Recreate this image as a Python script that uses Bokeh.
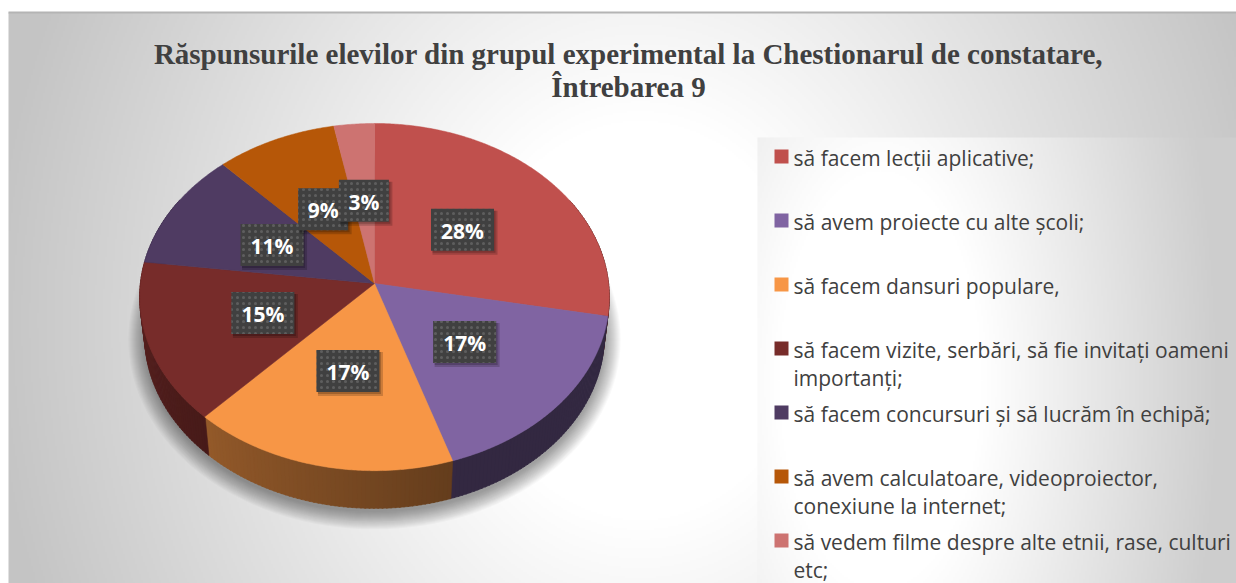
import numpy as np
from bokeh.plotting import figure
from bokeh.models import Range1d, ColumnDataSource
from bokeh.core.properties import value
from bokeh.embed import file_html
from bokeh.resources import INLINE

# ---------------- data ----------------
title_lines = ["Răspunsurile elevilor din grupul experimental la Chestionarul de constatare,",
               "Întrebarea 9"]
categories = ["să facem lecții aplicative;",
              "să avem proiecte cu alte școli;",
              "să facem dansuri populare,",
              "să facem vizite, serbări, să fie invitați oameni importanți;",
              "să facem concursuri și să lucrăm în echipă;",
              "să avem calculatoare, videoproiector, conexiune la internet;",
              "să vedem filme despre alte etnii, rase, culturi etc;"]
legend_lines = [["să facem lecții aplicative;"],
                ["să avem proiecte cu alte școli;"],
                ["să facem dansuri populare,"],
                ["să facem vizite, serbări, să fie invitați oameni", "importanți;"],
                ["să facem concursuri și să lucrăm în echipă;"],
                ["să avem calculatoare, videoproiector,", "conexiune la internet;"],
                ["să vedem filme despre alte etnii, rase, culturi", "etc;"]]
percent = [28, 17, 17, 15, 11, 9, 3]
colors = ["#c0504d", "#8064a2", "#f79646", "#772c2a", "#4f3b62", "#b65708", "#cd7371"]

# ---------------- geometry helpers (screen-pixel space, y down) ----------------
W, Hh = 1236, 583
CX, CY = 374.0, 283.0               # pie apex
KP, DP = 2025.0, 8.65               # perspective
ST = 0.737
CT = float(np.sqrt(1 - ST ** 2))
DEPTH = 0.25


def proj(theta_deg, r=1.0, w=0.0):
    th = np.radians(theta_deg)
    u = r * np.sin(th)
    v = r * np.cos(th)
    yc = v * ST + w * CT
    zc = DP + v * CT - w * ST
    X = CX + KP * u / zc
    Y = CY - KP * yc / zc
    return X, -Y


def hex2rgb(h):
    h = h.lstrip("#")
    return tuple(int(h[i:i + 2], 16) for i in (0, 2, 4))


def rgb2hex(c):
    return "#%02x%02x%02x" % tuple(int(max(0, min(255, round(v)))) for v in c)


p = figure(width=W, height=Hh, x_range=Range1d(0, W), y_range=Range1d(-Hh, 0),
           output_backend="svg", toolbar_location=None, min_border=0,
           x_axis_location=None, y_axis_location=None)
p.grid.visible = False
p.outline_line_color = None
p.background_fill_color = "white"
p.border_fill_color = "white"


def gradient_image(x0, x1, y0, y1, cx, cy, rx, ry, lo, dark, span, step=2):
    xs = np.arange(x0, x1, step) + step / 2
    ys = np.arange(y1, y0, -step) - step / 2      # row 0 = bottom
    XX, YY = np.meshgrid(xs, ys)
    d = np.sqrt(((XX - cx) / rx) ** 2 + ((YY - cy) / ry) ** 2)
    shade = 255 - dark * np.clip((d - lo) / span, 0, 1)
    img = np.empty(XX.shape, dtype=np.uint32)
    view = img.view(dtype=np.uint8).reshape(XX.shape + (4,))
    view[:, :, 0] = shade
    view[:, :, 1] = shade
    view[:, :, 2] = shade
    view[:, :, 3] = 255
    return img


# chart-area background
bg = gradient_image(8, 1236, 12, 584, 640, 320, 567, 667, 0.3, 59, 0.85)
p.image_rgba(image=[bg], x=8, y=-584, dw=1228, dh=572)
# legend box background
lg = gradient_image(757, 1237, 137, 585, 880, 380, 340, 700, 0.3, 50, 0.7)
p.image_rgba(image=[lg], x=757, y=-585, dw=480, dh=448)
# top border line
p.quad(left=8, right=1236, top=-11, bottom=-13, fill_color="#b4b4b4", line_color=None)

# ---------------- pie ----------------
fr = np.array(percent, dtype=float) / sum(percent)
bounds = np.concatenate([[0], np.cumsum(fr) * 360])

# soft shadow
bx_l, _ = proj(270, 1, -DEPTH)
bx_r, _ = proj(90, 1, -DEPTH)
_, by_t = proj(0, 1, -DEPTH)
_, by_b = proj(180, 1, -DEPTH)
scx = (bx_l + bx_r) / 2
scy = (by_t + by_b) / 2 - 4
srx = (bx_r - bx_l) / 2
sry = (by_t - by_b) / 2
for k in range(18):
    p.ellipse(x=scx, y=scy, width=2 * (srx + k), height=2 * (sry + k),
              fill_color="black", fill_alpha=0.022, line_color=None)

# side walls
wall_xs, wall_ys, wall_c = [], [], []
ths = np.linspace(60, 300, 241)
for a, b in zip(ths[:-1], ths[1:]):
    m = (a + b) / 2
    idx = int(np.searchsorted(bounds, m, side="right") - 1)
    idx = min(max(idx, 0), len(percent) - 1)
    x = np.clip(1 - abs(m - 270) / 110, 0, 1)
    f = 0.40 + 0.34 * x
    c = rgb2hex([v * f for v in hex2rgb(colors[idx])])
    pa = proj(a, 1, 0); pb = proj(b + 0.3, 1, 0)
    qb = proj(b + 0.3, 1, -DEPTH); qa = proj(a, 1, -DEPTH)
    wall_xs.append([pa[0], pb[0], qb[0], qa[0]])
    wall_ys.append([pa[1], pb[1], qb[1], qa[1]])
    wall_c.append(c)
p.patches(xs="xs", ys="ys", fill_color="c", line_color="c", line_width=0.6,
          source=ColumnDataSource(dict(xs=wall_xs, ys=wall_ys, c=wall_c)))

# top faces
top_xs, top_ys = [], []
for i in range(len(percent)):
    a, b = bounds[i], bounds[i + 1]
    n = max(4, int((b - a) / 0.5))
    ang = np.linspace(a, b, n)
    ex, ey = proj(ang, 1, 0)
    cx0, cy0 = proj(0, 0, 0)
    top_xs.append(np.concatenate([[cx0], ex]).tolist())
    top_ys.append(np.concatenate([[cy0], ey]).tolist())
p.patches(xs="xs", ys="ys", fill_color="c", line_color="c", line_width=0.5,
          source=ColumnDataSource(dict(xs=top_xs, ys=top_ys, c=colors)))

# data labels
for i, v in enumerate(percent):
    mid = (bounds[i] + bounds[i + 1]) / 2
    lx, ly = proj(mid, 0.5, 0)
    txt = f"{v}%"
    bw = 24 + 13 * len(txt)
    bh = 42
    p.rect(x=lx + 2.5, y=ly - 3, width=bw + 2, height=bh + 2, fill_color="black",
           fill_alpha=0.18, line_color=None)
    p.rect(x=lx + 1.5, y=ly - 2, width=bw, height=bh, fill_color="black",
           fill_alpha=0.2, line_color=None)
    p.rect(x=lx, y=ly, width=bw, height=bh, fill_color="#404040", line_color=None,
           hatch_pattern="dot", hatch_color="#5e5e5e", hatch_scale=6, hatch_weight=2)
    p.text(x=[lx], y=[ly - 1], text=[txt], text_align="center", text_baseline="middle",
           text_font=value("Open Sans"), text_font_style="bold", text_font_size="21px",
           text_color="white")

# ---------------- title ----------------
p.text(x=[628, 628], y=[-53, -86], text=title_lines, text_align="center",
       text_baseline="middle", text_font=value("Liberation Serif"),
       text_font_style="bold", text_font_size="29px", text_color="#404040")

# ---------------- legend ----------------
for i, lines in enumerate(legend_lines):
    ry = 156 + 64 * i
    p.rect(x=781, y=-ry, width=14, height=14, fill_color=colors[i], line_color=None)
    for j, ln in enumerate(lines):
        p.text(x=[793], y=[-(ry + 28.5 * j) - 1], text=[ln], text_align="left",
               text_baseline="middle", text_font=value("Open Sans"),
               text_font_size="21px", text_color="#404040")

open("out.html", "w").write(file_html(p, INLINE))
